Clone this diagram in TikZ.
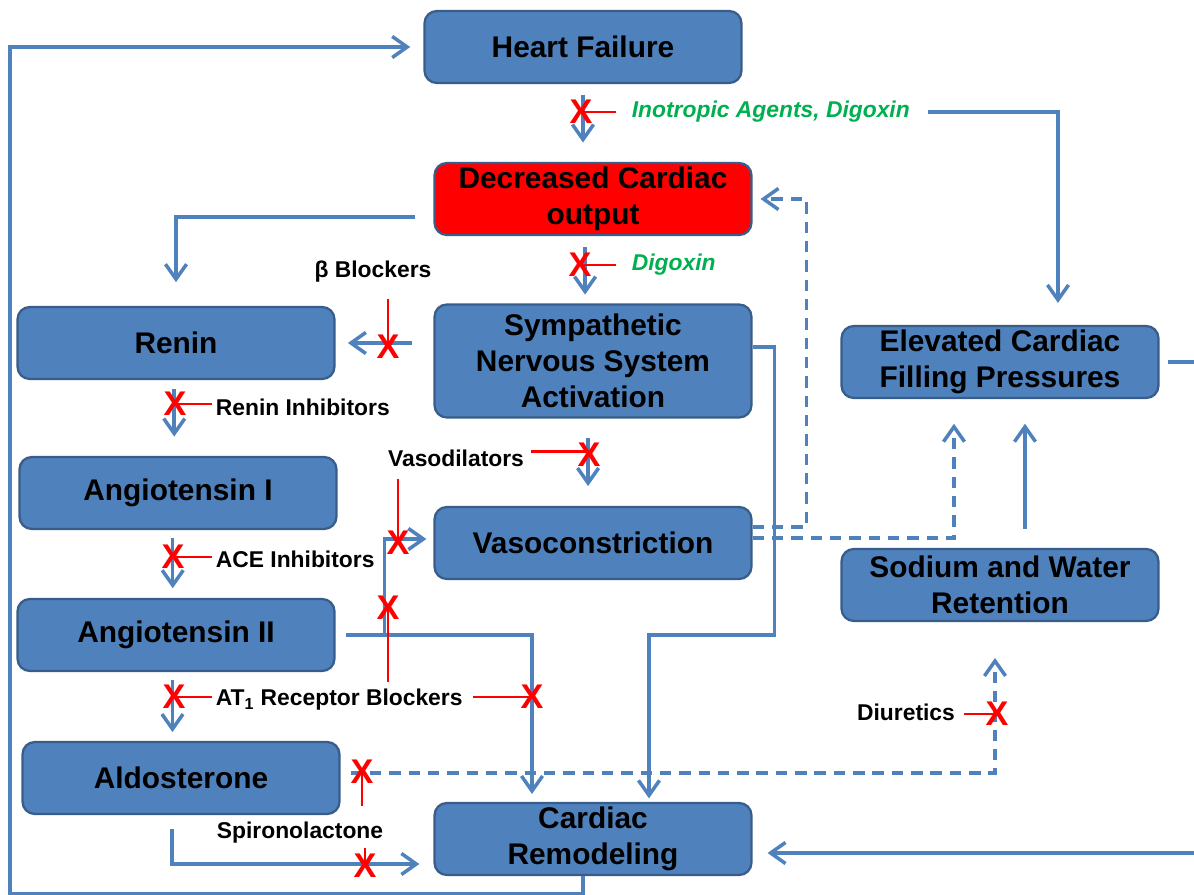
\documentclass[tikz,border=0pt]{standalone}
\usepackage{fontspec}
\setmainfont{Liberation Sans}
\usetikzlibrary{shapes,arrows.meta}
\definecolor{boxblue}{HTML}{4F81BD}
\definecolor{edgeblue}{HTML}{385D8A}
\definecolor{druggreen}{HTML}{00B050}

\begin{document}
\begin{tikzpicture}[x=0.02cm, y=-0.02cm,
        box/.style={draw=edgeblue, line width=1.3pt, fill=boxblue, rounded corners=7pt,
                minimum width=6.34cm, minimum height=1.44cm, inner sep=0pt, align=center,
                font=\fontsize{17}{20.5}\selectfont\bfseries},
        lbl/.style={inner sep=2pt, font=\fontsize{13}{15}\selectfont\bfseries},
        drug/.style={inner sep=2pt, text=druggreen, font=\fontsize{13}{15}\selectfont\bfseries\itshape},
        xmark/.style={inner sep=0pt, text=red, font=\fontsize{19.5}{19.5}\selectfont\bfseries},
        link/.style={draw=boxblue, line width=2pt},
        flow/.style={link, -{Straight Barb[length=8.5pt,width=12pt]}},
        dflow/.style={flow, dash pattern=on 6.5pt off 4.5pt},
        inhib/.style={draw=red, line width=1.3pt}]
        \useasboundingbox (0,0) rectangle (1194,895);

        % Boxes
        \node [box] (hf) at (583, 47) {Heart Failure};
        \node [box, fill=red] (dco) at (593, 199) {Decreased Cardiac\\output};
        \node [box] (renin) at (176, 343) {Renin};
        \node [box, minimum height=2.26cm] (sns) at (593, 361) {Sympathetic\\Nervous System\\Activation};
        \node [box] (ang1) at (178, 493) {Angiotensin I};
        \node [box] (vaso) at (593, 543) {Vasoconstriction};
        \node [box] (ang2) at (176, 635) {Angiotensin II};
        \node [box] (aldo) at (181, 778) {Aldosterone};
        \node [box] (remod) at (593, 839) {Cardiac\\Remodeling};
        \node [box] (ecfp) at (1000, 362) {Elevated Cardiac\\Filling Pressures};
        \node [box] (sodium) at (1000, 585) {Sodium and Water\\Retention};

        % Drug labels
        \node [drug, anchor=west] (inotr) at (628, 112) {Inotropic Agents, Digoxin};
        \node [drug, anchor=west] (digx) at (628, 265) {Digoxin};
        \node [lbl] (beta) at (373, 272) {β Blockers};
        \node [lbl, anchor=west] (rinh) at (212, 407) {Renin Inhibitors};
        \node [lbl] (vdil) at (456, 458) {Vasodilators};
        \node [lbl, anchor=west] (acei) at (212, 559) {ACE Inhibitors};
        \node [lbl, anchor=west] (at1) at (212, 700) {AT\textsubscript{1} Receptor Blockers};
        \node [lbl] (spiro) at (300, 833) {Spironolactone};
        \node [lbl] (diur) at (906, 712) {Diuretics};

        % Pathway arrows
        \draw [flow, shorten <=6pt, shorten >=11pt] (hf.south) -- (hf.south |- dco.north);
        \draw [flow, shorten <=6pt, shorten >=5pt] ([xshift=-4.5pt]dco.south) -- ([xshift=-4.5pt]dco.south |- sns.north);
        \draw [flow, shorten >=13.5pt] ([shift={(-18,18)}]dco.west) -| (renin.north);
        \draw [flow, shorten <=12pt, shorten >=7pt] (sns.west |- renin.east) -- (renin.east);
        \draw [flow, shorten <=5pt, shorten >=11pt] ([xshift=-1pt]renin.south) -- ([xshift=-1pt]renin.south |- ang1.north);
        \draw [flow, shorten <=4.5pt, shorten >=5.5pt] ([xshift=-3pt]ang1.south) -- ([xshift=-3pt]ang1.south |- ang2.north);
        \draw [flow, shorten <=4.5pt, shorten >=5pt] ([xshift=-2pt]ang2.south) -- ([xshift=-2pt]ang2.south |- aldo.north);
        \draw [flow, shorten <=10.8pt, shorten >=11.3pt] ([xshift=-2.8pt]sns.south) -- ([xshift=-2.8pt]sns.south |- vaso.north);
        \draw [flow, shorten <=6pt, shorten >=4pt] (ang2.east) -- ++(49,0) |- ([shift={(0,-4)}]vaso.west);
        \draw [flow, shorten <=6pt, shorten >=4.5pt] (ang2.east) -| ([shift={(-61,0)}]remod.north);
        \draw [flow, shorten >=2pt] ([shift={(0,-14)}]sns.east) -- ++(22,0) -- ++(0,288) -| ([shift={(56,0)}]remod.north);
        \draw [flow, shorten >=8pt] ([shift={(-9,14)}]aldo.south) |- ([shift={(0,25)}]remod.west);
        \draw [flow, shorten <=4.5pt, shorten >=8.5pt] (ecfp.east) -- ++(60,0) |- ([shift={(0,14)}]remod.east);
        \draw [flow, shorten <=10.8pt, shorten >=14pt] ([shift={(25,0)}]sodium.north) -- ([shift={(25,0)}]ecfp.south);
        \draw [flow, shorten <=8pt, shorten >=12.5pt] (inotr.east) -| ([shift={(58,0)}]ecfp.north);
        \draw [flow, shorten >=7.5pt] ([shift={(-10,0)}]remod.south) -- ++(0,18) -- ++(-573,0) |- (hf.west);
        \draw [dflow, shorten >=4.5pt] ([shift={(0,-16)}]vaso.east) -- ++(54,0) |- (dco.east);
        \draw [dflow, shorten >=14pt] ([shift={(0,-5)}]vaso.east) -| ([shift={(-46,0)}]ecfp.south);
        \draw [dflow, shorten <=5.7pt, shorten >=20.4pt] ([shift={(0,-5)}]aldo.east) -| ([shift={(-5,0)}]sodium.south);

        % Blocking marks
        \node [xmark] (xhf) at (581, 112) {X};
        \node [xmark] (xdco) at (580, 265) {X};
        \node [xmark] (xbeta) at (388, 347) {X};
        \node [xmark] (xrenin) at (175, 404) {X};
        \node [xmark] (xace) at (173, 557) {X};
        \node [xmark] (xvaso) at (589, 455) {X};
        \node [xmark] (xvdil) at (398, 543) {X};
        \node [xmark] (xat1a) at (174, 697) {X};
        \node [xmark] (xat1b) at (388, 608) {X};
        \node [xmark] (xat1c) at (532, 697) {X};
        \node [xmark] (xspirotop) at (362, 772) {X};
        \node [xmark] (xspirobot) at (365, 866) {X};
        \node [xmark] (xdiur) at (997, 714) {X};

        \draw [inhib, shorten <=7pt] (inotr.west) -- (xhf.center);
        \draw [inhib, shorten <=7pt] (digx.west) -- (xdco.center);
        \draw [inhib, shorten <=7pt] (beta.south -| xbeta) -- (xbeta.center);
        \draw [inhib] (rinh.west |- xrenin) -- (xrenin.center);
        \draw [inhib] (acei.west |- xace) -- (xace.center);
        \draw [inhib, shorten <=2pt] ([yshift=2pt]vdil.east |- xvaso) -- ([yshift=2pt]xvaso.center);
        \draw [inhib, shorten <=5pt] (vdil.south -| xvdil) -- (xvdil.center);
        \draw [inhib] (at1.west |- xat1a) -- (xat1a.center);
        \draw [inhib, shorten <=2pt] (at1.north -| xat1b) -- (xat1b.center);
        \draw [inhib, shorten <=4pt] (at1.east |- xat1c) -- (xat1c.center);
        \draw [inhib] ([yshift=7pt]spiro.north -| xspirotop) -- (xspirotop.center);
        \draw [inhib] (spiro.south -| xspirobot) -- (xspirobot.center);
        \draw [inhib, shorten <=3pt] (diur.east |- xdiur) -- (xdiur.center);
\end{tikzpicture}
\end{document}
